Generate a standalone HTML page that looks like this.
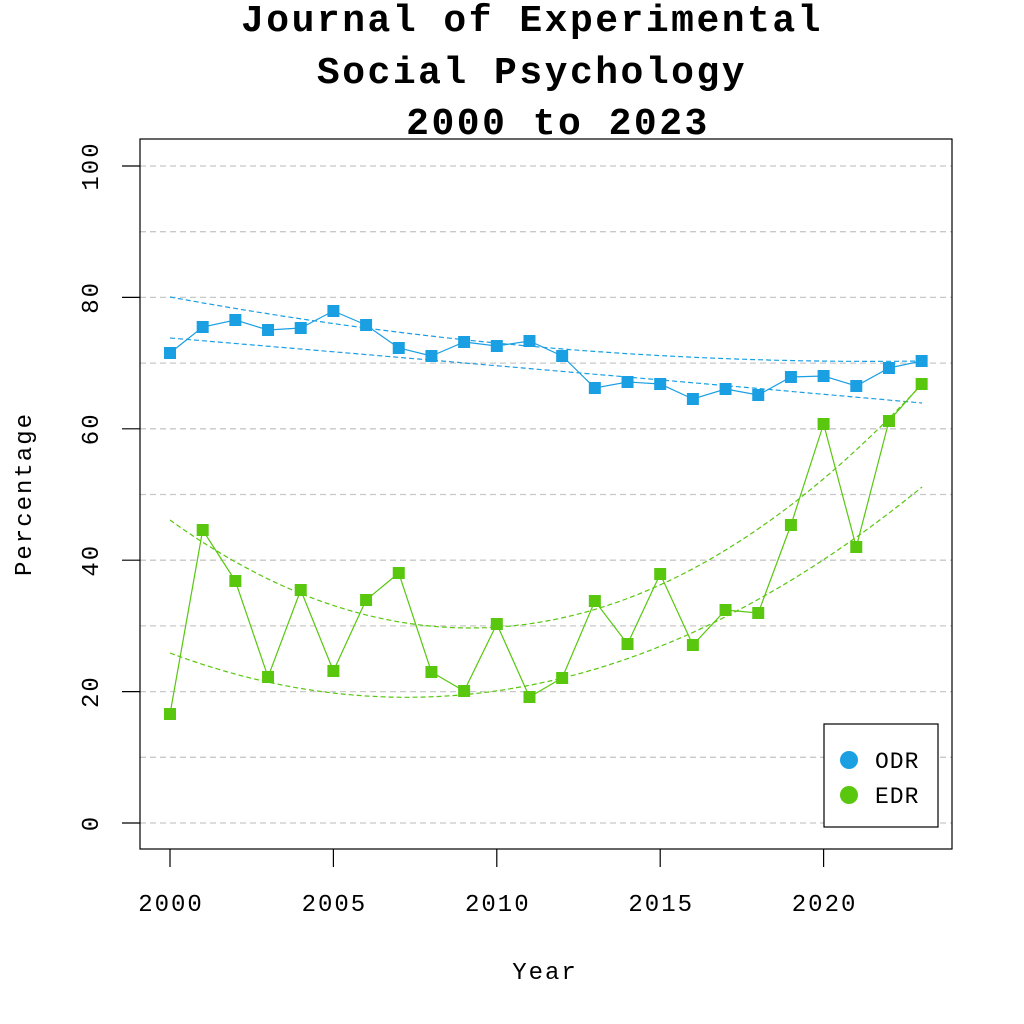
<!DOCTYPE html>
<html><head><meta charset="utf-8"><style>body{margin:0;background:#fff}svg{display:block}</style></head><body>
<svg id="s" width="1024" height="1024" xmlns="http://www.w3.org/2000/svg" font-family="Liberation Mono, monospace">
<g font-weight="bold" font-size="38" letter-spacing="2.5" text-anchor="middle" fill="#000">
<text x="532" y="31">Journal of Experimental</text>
<text x="532" y="83">Social Psychology</text>
<text x="558" y="134">2000 to 2023</text>
</g>
<g id="grid" stroke="#c8c8c8" stroke-width="1.3" stroke-dasharray="6,4"></g>
<rect x="140" y="139" width="812" height="710" fill="none" stroke="#000" stroke-width="1.2"/>
<g id="yax" font-size="24" letter-spacing="2" fill="#000"></g>
<g id="xax" font-size="24" letter-spacing="2" fill="#000" text-anchor="middle"></g>
<text x="545" y="979" font-size="24" letter-spacing="2" text-anchor="middle">Year</text>
<text transform="translate(31,494) rotate(-90)" font-size="24" letter-spacing="2" text-anchor="middle">Percentage</text>
<g id="series"></g>
<rect x="824" y="724" width="114" height="103" fill="#fff" stroke="#000" stroke-width="1.2"/>
<circle cx="849" cy="760" r="9" fill="#1a9fe3"/>
<circle cx="849" cy="795" r="9" fill="#58c70e"/>
<text x="875" y="768" font-size="23" letter-spacing="1">ODR</text>
<text x="875" y="803" font-size="23" letter-spacing="1">EDR</text>
</svg>
<script>
const NS="http://www.w3.org/2000/svg";
function el(p,t,a,txt){const e=document.createElementNS(NS,t);for(const k in a)e.setAttribute(k,a[k]);if(txt!==undefined)e.textContent=txt;document.getElementById(p).appendChild(e);return e;}
const Y=v=>823-v*6.57, X=yr=>170+(yr-2000)*32.68;
for(let v=0;v<=100;v+=10)el("grid","line",{x1:140,x2:952,y1:Y(v),y2:Y(v)});
for(let v=0;v<=100;v+=20){el("yax","line",{x1:122,x2:140,y1:Y(v),y2:Y(v),stroke:"#000","stroke-width":1.2});
 el("yax","text",{transform:`translate(98,${Y(v)}) rotate(-90)`,"text-anchor":"middle"},String(v));}
for(let yr=2000;yr<=2020;yr+=5){el("xax","line",{x1:X(yr),x2:X(yr),y1:849,y2:867,stroke:"#000","stroke-width":1.2});el("xax","text",{x:X(yr)+1,y:911},String(yr));}
const odr=[353,327,320,330,328,311,325,348,356,342,346,341,356,388,382,384,399,389,395,377,376,386,368,361];
const edr=[714,530,581,677,590,671,600,573,672,691,624,697,678,601,644,574,645,610,613,525,424,547,421,384];
function quad(p,col){
 const [a,b,c]=p;let d="";
 for(let x=a[0];x<=c[0]+0.01;x+=4){
  const y=a[1]*((x-b[0])*(x-c[0]))/((a[0]-b[0])*(a[0]-c[0]))+b[1]*((x-a[0])*(x-c[0]))/((b[0]-a[0])*(b[0]-c[0]))+c[1]*((x-a[0])*(x-b[0]))/((c[0]-a[0])*(c[0]-b[0]));
  d+=(d?"L":"M")+x.toFixed(1)+","+y.toFixed(1);}
 el("series","path",{d,fill:"none",stroke:col,"stroke-width":1.2,"stroke-dasharray":"5,3"});}
function ser(data,col){
 el("series","polyline",{points:data.map((y,i)=>X(2000+i)+","+y).join(" "),fill:"none",stroke:col,"stroke-width":1.2});
 data.forEach((y,i)=>el("series","rect",{x:X(2000+i)-6,y:y-6,width:12,height:12,fill:col}));}
quad([[170,297],[496,343],[922,361]],"#1a9fe3");
quad([[170,338],[546,370],[922,403]],"#1a9fe3");
quad([[170,520],[430,626],[922,384]],"#58c70e");
quad([[170,653],[480,693],[922,487]],"#58c70e");
ser(odr,"#1a9fe3");ser(edr,"#58c70e");
</script>
</body></html>
